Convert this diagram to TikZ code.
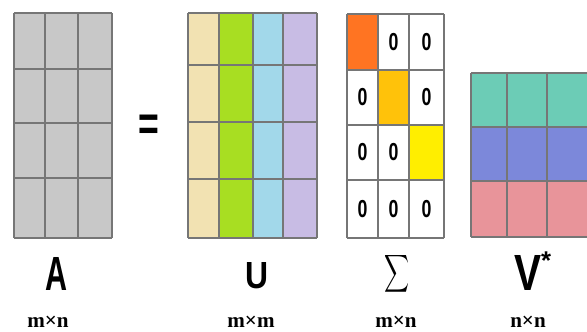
\documentclass[tikz,border=0pt]{standalone}
\usepackage{fontspec}
\setmainfont{Liberation Serif}
\newfontfamily\lsans{Liberation Sans}
\definecolor{agray}{HTML}{C8C8C8}
\definecolor{gridc}{HTML}{767676}
\definecolor{uone}{HTML}{F2E2B2}
\definecolor{utwo}{HTML}{A8DE22}
\definecolor{uthree}{HTML}{A2D8EA}
\definecolor{ufour}{HTML}{C8BCE4}
\definecolor{sone}{HTML}{FF7422}
\definecolor{stwo}{HTML}{FFC20A}
\definecolor{sthree}{HTML}{FFEE00}
\definecolor{vone}{HTML}{6CCCB6}
\definecolor{vtwo}{HTML}{7C88DA}
\definecolor{vthree}{HTML}{E8949A}
\begin{document}
\begin{tikzpicture}[x=0.03cm,y=-0.03cm,
  gl/.style={draw=gridc,line width=1.2pt},
  zero/.style={inner sep=0pt,font=\lsans\bfseries\fontsize{21}{21}\selectfont},
  dimlbl/.style={inner sep=0pt,anchor=base,font=\bfseries\fontsize{18}{18}\selectfont},
  biglbl/.style={inner sep=0pt}]
\useasboundingbox (0,0) rectangle (587,331);
\clip (0,0) rectangle (587,331);
\fill[white] (0,0) rectangle (587,331);
% A
\fill[agray] (14,13) rectangle (112,238);
\foreach \x in {14,45,78,112} \draw[gl] (\x,13) -- (\x,238);
\foreach \y in {13,69,123,178,238} \draw[gl] (14,\y) -- (112,\y);
% equals
\node[inner sep=0pt] (eq) at (148.5,128) {\lsans\bfseries\fontsize{38}{38}\selectfont\scalebox{0.8}[1.1]{=}};
% U
\fill[uone] (188,13) rectangle (219,238);
\fill[utwo] (219,13) rectangle (253,238);
\fill[uthree] (253,13) rectangle (283,238);
\fill[ufour] (283,13) rectangle (317,238);
\foreach \x in {188,219,253,283,317} \draw[gl] (\x,13) -- (\x,238);
\foreach \y in {13,65,122,179,238} \draw[gl] (188,\y) -- (317,\y);
% Sigma
\fill[sone] (347,14) rectangle (378,70);
\fill[stwo] (378,70) rectangle (409,125);
\fill[sthree] (409,125) rectangle (444,180);
\foreach \x in {347,378,409,444} \draw[gl] (\x,14) -- (\x,238);
\foreach \y in {14,70,125,180,238} \draw[gl] (347,\y) -- (444,\y);
\foreach \cx/\cy/\nm in {393.5/42/z1,426.5/42/z2,362.5/97.5/z3,426.5/97.5/z4,362.5/152.5/z5,393.5/152.5/z6,362.5/209/z7,393.5/209/z8,426.5/209/z9}
  \node[zero] (\nm) at (\cx,\cy) {\scalebox{0.72}[1]{0}};
% V*
\fill[vone] (471,73) rectangle (600,127);
\fill[vtwo] (471,127) rectangle (600,181);
\fill[vthree] (471,181) rectangle (600,237);
\foreach \x in {471,507,547} \draw[gl] (\x,73) -- (\x,237);
\foreach \y in {73,127,181,237} \draw[gl] (471,\y) -- (600,\y);
% labels
\node[biglbl] (lA) at (57,273.5) {\resizebox{0.66cm}{0.99cm}{\lsans\bfseries A}};
\node[biglbl] (lU) at (257,276) {\resizebox{0.69cm}{0.78cm}{\lsans\bfseries U}};
\node[biglbl] (lS) at (397,274) {\resizebox*{0.75cm}{1.26cm}{$\displaystyle\sum$}};
\node[biglbl] (lV) at (528,272.5) {\resizebox{0.81cm}{1.05cm}{\lsans\bfseries V}};
\node[biglbl] (lstar) at (546,261) {\resizebox{0.3cm}{!}{\lsans\bfseries *}};
\node[dimlbl] (dA) at (48,327) {m×n};
\node[dimlbl] (dU) at (251,327) {m×m};
\node[dimlbl] (dS) at (396,327) {m×n};
\node[dimlbl] (dV) at (528,327) {n×n};
\end{tikzpicture}
\end{document}
